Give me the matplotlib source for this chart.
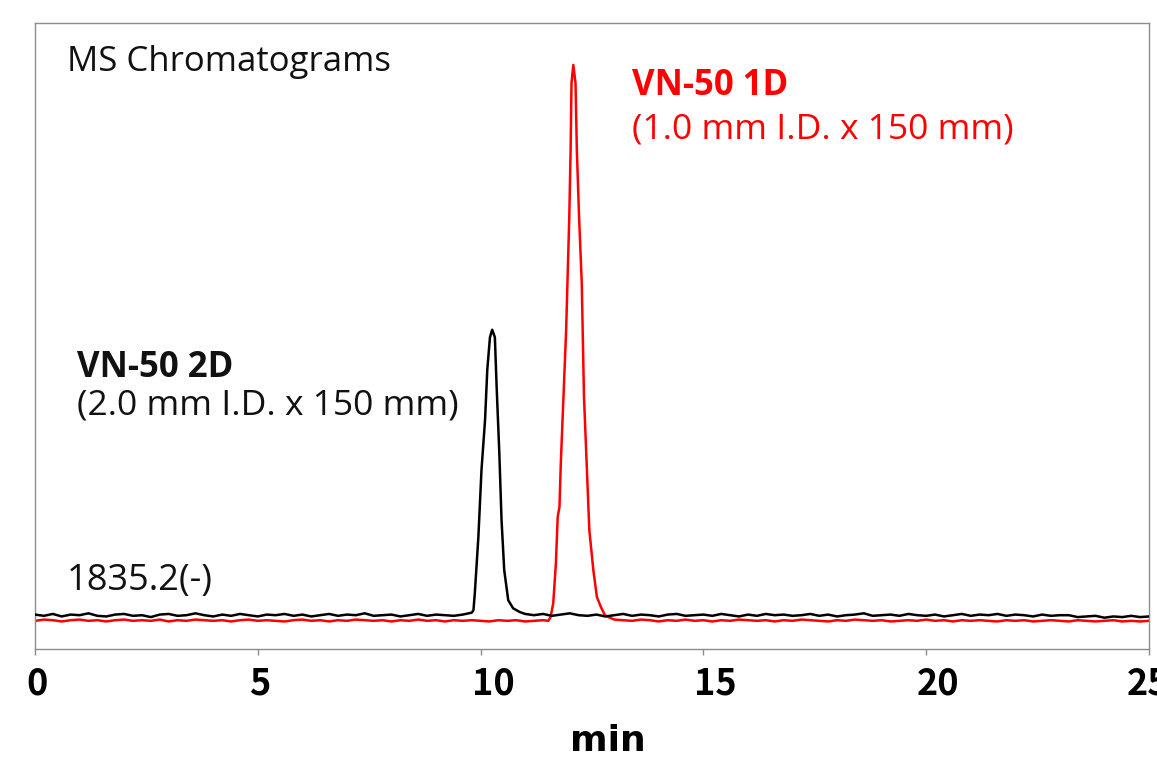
import matplotlib
matplotlib.use("Agg")
import matplotlib.pyplot as plt
from matplotlib.transforms import ScaledTranslation

# ---------------- data ----------------
# VN-50 2D (2.0 mm I.D.) - black trace
black_time = [
    0.0, 0.2, 0.4, 0.6, 0.8, 1.0, 1.2, 1.4, 1.6, 1.8,
    2.0, 2.2, 2.4, 2.6, 2.8, 3.0, 3.2, 3.4, 3.6, 3.8,
    4.0, 4.2, 4.4, 4.6, 4.8, 5.0, 5.2, 5.4, 5.6, 5.8,
    6.0, 6.2, 6.4, 6.6, 6.8, 7.0, 7.2, 7.4, 7.6, 7.8,
    8.0, 8.2, 8.4, 8.6, 8.8, 9.0, 9.2, 9.4, 9.6,
    9.80, 9.84, 9.87, 9.95, 10.02, 10.10, 10.15, 10.21, 10.26, 10.32,
    10.36, 10.42, 10.47, 10.53, 10.62, 10.73, 10.88, 11.0,
    11.2, 11.4, 11.6, 11.8, 12.0, 12.2, 12.4, 12.6, 12.8, 13.0,
    13.2, 13.4, 13.6, 13.8, 14.0, 14.2, 14.4, 14.6, 14.8, 15.0,
    15.2, 15.4, 15.6, 15.8, 16.0, 16.2, 16.4, 16.6, 16.8, 17.0,
    17.2, 17.4, 17.6, 17.8, 18.0, 18.2, 18.4, 18.6, 18.8, 19.0,
    19.2, 19.4, 19.6, 19.8, 20.0, 20.2, 20.4, 20.6, 20.8, 21.0,
    21.2, 21.4, 21.6, 21.8, 22.0, 22.2, 22.4, 22.6, 22.8, 23.0,
    23.2, 23.4, 23.6, 23.8, 24.0, 24.2, 24.4, 24.6, 24.8, 25.0,
]
black_signal = [
    5.5, 5.3, 5.6, 5.2, 5.5, 5.4, 5.7, 5.3, 5.2, 5.5,
    5.6, 5.3, 5.4, 5.1, 5.5, 5.6, 5.3, 5.4, 5.7, 5.4,
    5.2, 5.5, 5.3, 5.6, 5.4, 5.2, 5.5, 5.4, 5.6, 5.3,
    5.5, 5.2, 5.4, 5.6, 5.3, 5.5, 5.4, 5.7, 5.3, 5.4,
    5.5, 5.2, 5.4, 5.6, 5.3, 5.5, 5.4, 5.3, 5.5,
    5.8, 6.2, 8.9, 17.9, 28.6, 36.6, 44.6, 49.8, 51.0, 49.8,
    41.9, 31.3, 20.6, 12.6, 7.8, 6.5, 5.9, 5.6,
    5.4, 5.6, 5.3, 5.5, 5.7, 5.4, 5.3, 5.5, 5.2, 5.4,
    5.6, 5.3, 5.5, 5.4, 5.2, 5.5, 5.6, 5.3, 5.4, 5.5,
    5.3, 5.6, 5.4, 5.2, 5.5, 5.3, 5.6, 5.4, 5.5, 5.3,
    5.4, 5.6, 5.3, 5.5, 5.2, 5.4, 5.5, 5.7, 5.3, 5.4,
    5.5, 5.3, 5.6, 5.4, 5.3, 5.5, 5.2, 5.4, 5.6, 5.3,
    5.5, 5.4, 5.6, 5.3, 5.5, 5.4, 5.2, 5.5, 5.3, 5.4,
    5.4, 5.1, 5.2, 5.3, 5.0, 5.2, 5.1, 5.3, 5.1, 5.2,
]

# VN-50 1D (1.0 mm I.D.) - red trace
red_time = [
    0.0, 0.2, 0.4, 0.6, 0.8, 1.0, 1.2, 1.4, 1.6, 1.8,
    2.0, 2.2, 2.4, 2.6, 2.8, 3.0, 3.2, 3.4, 3.6, 3.8,
    4.0, 4.2, 4.4, 4.6, 4.8, 5.0, 5.2, 5.4, 5.6, 5.8,
    6.0, 6.2, 6.4, 6.6, 6.8, 7.0, 7.2, 7.4, 7.6, 7.8,
    8.0, 8.2, 8.4, 8.6, 8.8, 9.0, 9.2, 9.4, 9.6, 9.8,
    10.0, 10.2, 10.4, 10.6, 10.8, 11.0, 11.2, 11.4,
    11.52, 11.57, 11.63, 11.69, 11.73, 11.77, 11.80, 11.86, 11.92, 11.95,
    11.99, 12.02, 12.04, 12.08, 12.13, 12.16, 12.21, 12.27, 12.29, 12.32,
    12.38, 12.44, 12.53, 12.61, 12.70, 12.79, 12.90,
    13.0, 13.2, 13.4, 13.6, 13.8, 14.0, 14.2, 14.4, 14.6, 14.8,
    15.0, 15.2, 15.4, 15.6, 15.8, 16.0, 16.2, 16.4, 16.6, 16.8,
    17.0, 17.2, 17.4, 17.6, 17.8, 18.0, 18.2, 18.4, 18.6, 18.8,
    19.0, 19.2, 19.4, 19.6, 19.8, 20.0, 20.2, 20.4, 20.6, 20.8,
    21.0, 21.2, 21.4, 21.6, 21.8, 22.0, 22.2, 22.4, 22.6, 22.8,
    23.0, 23.2, 23.4, 23.6, 23.8, 24.0, 24.2, 24.4, 24.6, 24.8,
    25.0,
]
red_signal = [
    4.5, 4.7, 4.6, 4.4, 4.6, 4.7, 4.5, 4.6, 4.4, 4.6,
    4.7, 4.5, 4.6, 4.5, 4.7, 4.4, 4.6, 4.5, 4.7, 4.6,
    4.5, 4.6, 4.4, 4.6, 4.7, 4.5, 4.6, 4.5, 4.4, 4.6,
    4.7, 4.5, 4.6, 4.4, 4.6, 4.5, 4.7, 4.6, 4.5, 4.6,
    4.4, 4.6, 4.5, 4.7, 4.5, 4.6, 4.4, 4.6, 4.5, 4.6,
    4.5, 4.4, 4.6, 4.5, 4.6, 4.4, 4.5, 4.6,
    4.5, 5.1, 7.3, 13.7, 21.1, 22.7, 29.7, 40.3, 51.0, 58.5,
    69.0, 79.7, 90.4, 93.3, 90.4, 79.7, 69.0, 58.5, 51.4, 40.3,
    29.7, 19.0, 12.6, 8.3, 6.7, 5.4, 5.0,
    4.7, 4.6, 4.5, 4.7, 4.6, 4.4, 4.6, 4.5, 4.7, 4.5,
    4.6, 4.4, 4.6, 4.5, 4.7, 4.6, 4.5, 4.6, 4.4, 4.6,
    4.5, 4.7, 4.6, 4.5, 4.4, 4.6, 4.5, 4.7, 4.6, 4.5,
    4.6, 4.4, 4.5, 4.6, 4.5, 4.7, 4.5, 4.6, 4.4, 4.6,
    4.5, 4.6, 4.5, 4.4, 4.6, 4.5, 4.6, 4.4, 4.5, 4.6,
    4.5, 4.4, 4.6, 4.5, 4.4, 4.5, 4.6, 4.4, 4.5, 4.4,
    4.5,
]

x_ticks = [0, 5, 10, 15, 20, 25]
x_tick_labels = ["0", "5", "10", "15", "20", "25"]
x_label = "min"
title_text = "MS Chromatograms"
mass_text = "1835.2(-)"
red_name = "VN-50 1D"
red_dims = "(1.0 mm I.D. x 150 mm)"
black_name = "VN-50 2D"
black_dims = "(2.0 mm I.D. x 150 mm)"

# ---------------- figure ----------------
W, H = 1157, 757
fig = plt.figure(figsize=(W / 100, H / 100), dpi=100)
ax = fig.add_axes([35 / W, (H - 649) / H, (1149 - 35) / W, (649 - 23) / H])

ax.plot(red_time, red_signal, color="#ff0000", lw=1.8, zorder=2)
ax.plot(black_time, black_signal, color="#000000", lw=1.8, zorder=3)

ax.set_xlim(0, 25)
ax.set_ylim(0, 100)
ax.set_yticks([])
ax.set_xticks(x_ticks)
ax.set_xticklabels(x_tick_labels, fontfamily="Noto Sans CJK JP",
                   fontweight="bold", fontsize=26)
ax.tick_params(axis="x", direction="out", length=4, width=1,
               color="#8c8c8c", pad=8)
labels = ax.get_xticklabels()
for i, lab in enumerate(labels):
    shift_px = -22 if i == len(labels) - 1 else -9
    lab.set_ha("left")
    lab.set_transform(lab.get_transform() +
                      ScaledTranslation(shift_px / 100, 0, fig.dpi_scale_trans))
    lab.set_clip_on(False)
for sp in ax.spines.values():
    sp.set_color("#8c8c8c")
    sp.set_linewidth(1.0)


def ftext(px, py, s, **kw):
    fig.text(px / W, 1 - py / H, s, ha="left", va="baseline", **kw)


txt_font = "Open Sans"
ftext(67, 71, title_text, fontfamily=txt_font, fontsize=25, color="#111111")
ftext(632, 95, red_name, fontfamily=txt_font, fontsize=25,
      fontweight="bold", color="#ff0000")
ftext(632, 139, red_dims, fontfamily=txt_font, fontsize=25.5, color="#ff0000")
ftext(77, 377, black_name, fontfamily=txt_font, fontsize=25,
      fontweight="bold", color="#111111")
ftext(77, 414, black_dims, fontfamily=txt_font, fontsize=25.5, color="#111111")
ftext(67, 590, mass_text, fontfamily=txt_font, fontsize=26, color="#111111")
ftext(570, 751, x_label, fontfamily="DejaVu Sans", fontsize=26,
      fontweight="bold", color="#000000")

fig.savefig("out.png", dpi=100)
